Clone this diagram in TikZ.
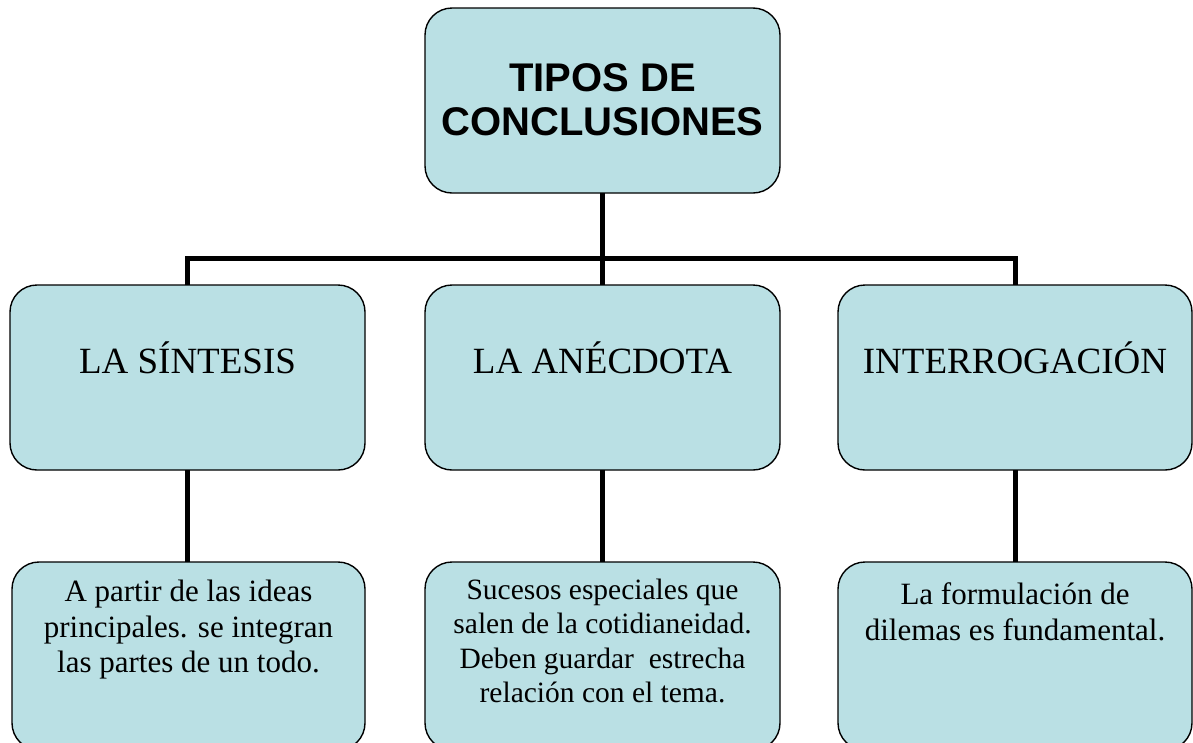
\documentclass[tikz,border=0pt]{standalone}
\usepackage{fontspec}
\setmainfont{Liberation Serif}
\newfontfamily\titlefont{Liberation Sans}
\definecolor{boxfill}{RGB}{186,224,228}
\tikzset{
  box/.style={draw=black, line width=1.4pt, fill=boxfill, rounded corners=27pt,
    minimum width=355pt, minimum height=185pt, inner sep=0pt, outer sep=0pt},
  bottombox/.style={box, minimum height=188pt},
  conn/.style={line width=5pt, line join=miter, draw=black},
  titletext/.style={font={\titlefont\bfseries\fontsize{40}{44}\selectfont}, align=center, inner sep=0pt},
  labeltext/.style={font={\fontsize{37}{42}\selectfont}, inner sep=0pt, anchor=base},
  desctext/.style={font={\fontsize{31}{35.5}\selectfont}, align=center, inner sep=0pt},
  desctextsmall/.style={font={\fontsize{29.5}{34.3}\selectfont}, align=center, inner sep=0pt}
}
\begin{document}
\begin{tikzpicture}[x=1pt, y=-1pt]
\useasboundingbox (0,0) rectangle (1193,742);
\clip (0,0) rectangle (1193,742);
\fill[white] (0,0) rectangle (1193,742);

% boxes
\node[box] (top) at (602.5,100.5) {};
\node[box] (s1) at (187.5,377.5) {};
\node[box] (s2) at (602.5,377.5) {};
\node[box, minimum width=354pt] (s3) at (1015,377.5) {};
\node[bottombox, minimum width=353pt] (d1) at (188.5,656) {};
\node[bottombox] (d2) at (602.5,656) {};
\node[bottombox, minimum width=354pt] (d3) at (1015,656) {};

% connectors
\coordinate (hub) at (602.5,258);
\draw[conn] (top.south) -- (hub);
\draw[conn] (hub) -| (s1.north);
\draw[conn] (hub) -| (s3.north);
\draw[conn] (hub) -- (s2.north);
\draw[conn] (s1.south) -- (d1.north -| s1.south);
\draw[conn] (s2.south) -- (d2.north);
\draw[conn] (s3.south) -- (d3.north);

% texts
\node[titletext] (ttitle) at (602.5,100) {TIPOS DE\\CONCLUSIONES};
\node[labeltext] (l1) at (187.5,373) {LA SÍNTESIS};
\node[labeltext] (l2) at (602.5,373) {LA ANÉCDOTA};
\node[labeltext] (l3) at (1015,373) {INTERROGACIÓN};
\node[desctext] (t1) at (188.5,630) {A partir de las ideas\\principales. se integran\\las partes de un todo.};
\node[desctextsmall] (t2) at (602.5,641) {Sucesos especiales que\\salen de la cotidianeidad.\\Deben guardar\ \ estrecha\\relación con el tema.};
\node[desctext] (t3) at (1015,612) {La formulación de\\dilemas es fundamental.};
\end{tikzpicture}
\end{document}
